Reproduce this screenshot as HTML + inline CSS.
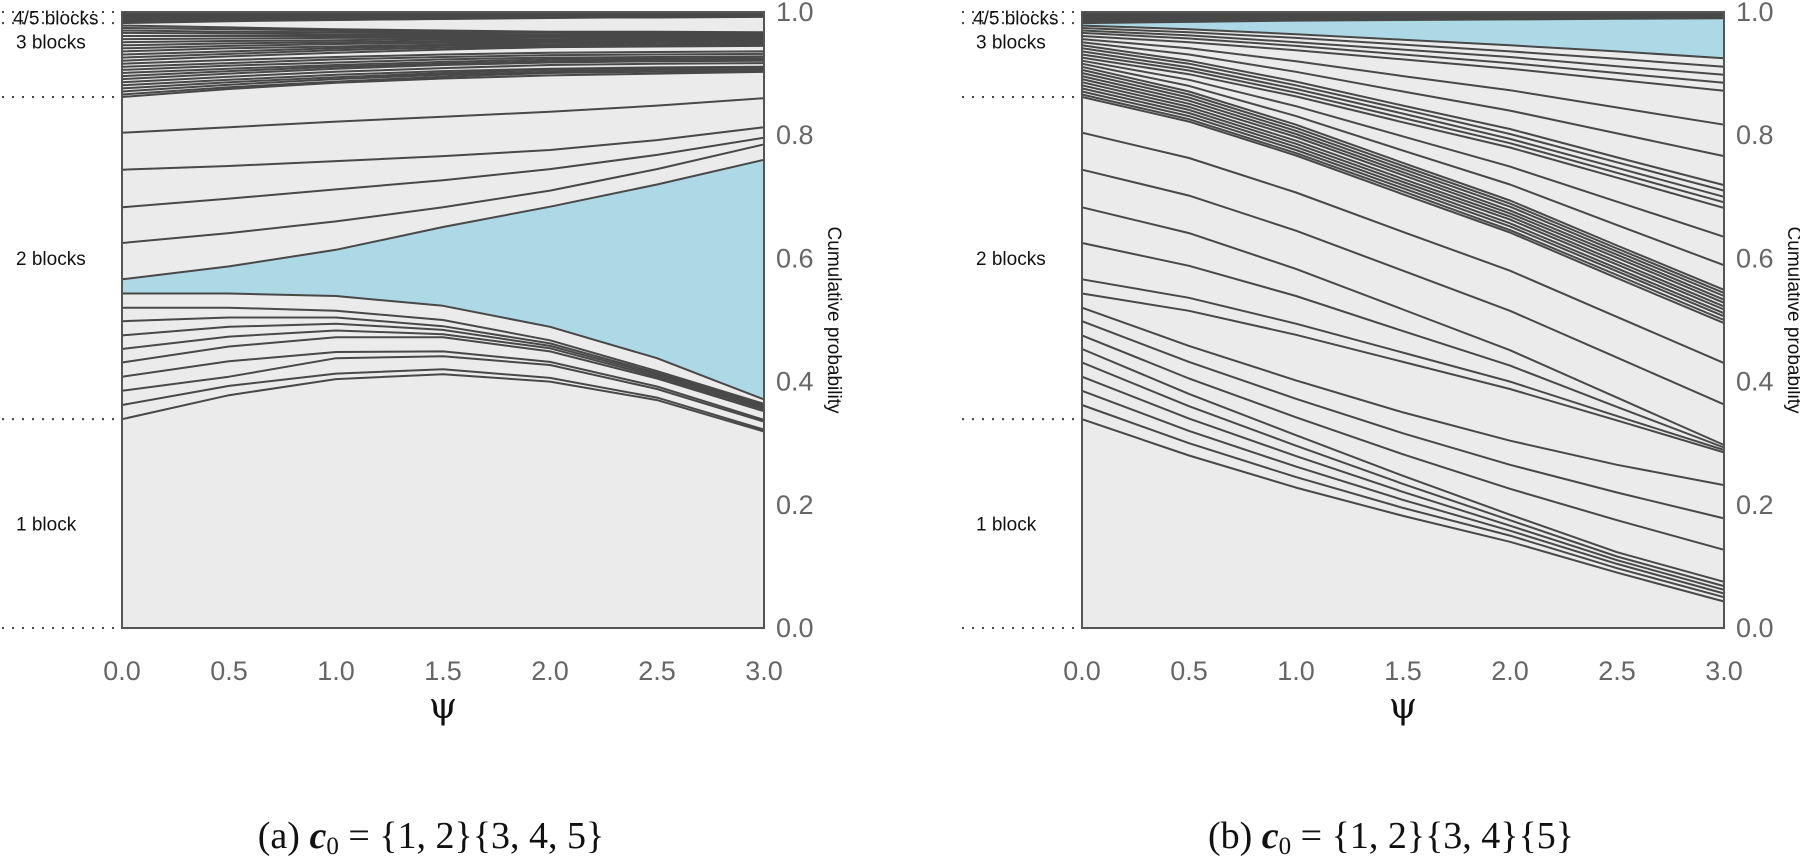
<!DOCTYPE html>
<html><head><meta charset="utf-8">
<style>
html,body{margin:0;padding:0;background:#fff;}
svg{display:block;}
</style></head>
<body>
<svg id="chart" width="1800" height="859" viewBox="0 0 1800 859" xmlns="http://www.w3.org/2000/svg"></svg>
<script>
// ---------- data ----------
const psiTicks = [0, 0.5, 1, 1.5, 2, 2.5, 3];
const psiEnds = [0, 3];
const probTicks = [0, 0.2, 0.4, 0.6, 0.8, 1.0];
const psiTickLabels = ["0.0","0.5","1.0","1.5","2.0","2.5","3.0"];
const probTickLabels = ["0.0","0.2","0.4","0.6","0.8","1.0"];
const groupLabels = ["1 block","2 blocks","3 blocks","4/5 blocks"];
const captions = ["(a)","(b)"];
const captionSets = ["{1, 2}{3, 4, 5}", "{1, 2}{3, 4}{5}"];

// Panel (a): cumulative boundaries at psi = 0..3 (step 0.5)
const aTwoBlockLines = [
 [0.339,0.378,0.404,0.412,0.400,0.370,0.319],
 [0.362,0.393,0.413,0.420,0.406,0.374,0.322],
 [0.385,0.408,0.438,0.441,0.427,0.388,0.335],
 [0.408,0.433,0.448,0.449,0.432,0.392,0.338],
 [0.431,0.457,0.472,0.472,0.449,0.405,0.352],
 [0.453,0.473,0.483,0.477,0.454,0.408,0.355],
 [0.475,0.489,0.494,0.484,0.458,0.411,0.358],
 [0.498,0.504,0.504,0.490,0.462,0.414,0.361],
 [0.520,0.520,0.515,0.500,0.467,0.417,0.364],
 [0.543,0.543,0.539,0.523,0.489,0.438,0.371],
 [0.566,0.587,0.614,0.651,0.684,0.720,0.760],
 [0.625,0.641,0.660,0.683,0.710,0.745,0.785],
 [0.683,0.697,0.712,0.727,0.745,0.768,0.796],
 [0.744,0.750,0.758,0.766,0.776,0.792,0.813],
 [0.804,0.813,0.822,0.830,0.838,0.848,0.860],
 [0.862,0.875,0.885,0.892,0.897,0.900,0.903]
];
const aThreeBlockLines = [
 [0.866,0.878,0.887,0.895,0.901,0.903,0.905],
 [0.871,0.882,0.891,0.898,0.903,0.906,0.907],
 [0.876,0.886,0.894,0.901,0.906,0.908,0.909],
 [0.881,0.890,0.898,0.904,0.908,0.910,0.911],
 [0.886,0.895,0.903,0.909,0.914,0.916,0.917],
 [0.891,0.900,0.908,0.914,0.918,0.920,0.921],
 [0.896,0.904,0.911,0.916,0.920,0.922,0.923],
 [0.901,0.908,0.914,0.919,0.923,0.924,0.925],
 [0.906,0.913,0.918,0.923,0.926,0.927,0.928],
 [0.911,0.917,0.923,0.927,0.930,0.931,0.932],
 [0.916,0.922,0.927,0.931,0.934,0.935,0.936],
 [0.921,0.928,0.934,0.939,0.943,0.944,0.945],
 [0.926,0.932,0.938,0.942,0.945,0.946,0.947],
 [0.931,0.936,0.941,0.945,0.947,0.948,0.949],
 [0.936,0.941,0.944,0.947,0.950,0.950,0.951],
 [0.941,0.945,0.948,0.950,0.952,0.953,0.953],
 [0.946,0.949,0.951,0.953,0.954,0.955,0.955],
 [0.951,0.953,0.954,0.956,0.956,0.957,0.957],
 [0.956,0.957,0.958,0.958,0.959,0.959,0.959],
 [0.961,0.961,0.961,0.961,0.961,0.961,0.961],
 [0.966,0.965,0.964,0.964,0.963,0.963,0.963],
 [0.970,0.968,0.967,0.966,0.966,0.965,0.965],
 [0.974,0.972,0.970,0.968,0.967,0.966,0.966],
 [0.978,0.975,0.972,0.970,0.968,0.968,0.967],
 [0.982,0.985,0.987,0.989,0.991,0.991,0.992]
];
const aFourFiveStart = [0.984,0.985,0.987,0.989,0.990,0.992,0.994,0.995,0.997,0.998];
const aFourFiveEnd   = [0.993,0.994,0.995,0.995,0.996,0.997,0.997,0.998,0.999,0.999];
const aBlueBetween = [9, 10];

// Panel (b)
const bTwoBlockLines = [
 [0.339,0.280,0.228,0.182,0.140,0.090,0.043],
 [0.362,0.300,0.245,0.195,0.150,0.097,0.050],
 [0.385,0.320,0.262,0.208,0.158,0.104,0.056],
 [0.408,0.340,0.279,0.221,0.166,0.110,0.062],
 [0.431,0.360,0.296,0.234,0.175,0.116,0.068],
 [0.453,0.380,0.313,0.247,0.184,0.123,0.075],
 [0.475,0.405,0.342,0.282,0.226,0.175,0.127],
 [0.498,0.432,0.372,0.316,0.265,0.220,0.178],
 [0.520,0.458,0.402,0.350,0.304,0.265,0.232],
 [0.543,0.515,0.476,0.432,0.388,0.337,0.285],
 [0.566,0.536,0.494,0.447,0.400,0.344,0.289],
 [0.625,0.588,0.539,0.482,0.426,0.359,0.293],
 [0.683,0.641,0.583,0.517,0.451,0.374,0.297],
 [0.744,0.702,0.645,0.580,0.515,0.439,0.363],
 [0.804,0.763,0.707,0.643,0.580,0.505,0.430],
 [0.862,0.822,0.767,0.704,0.642,0.568,0.495]
];
const bThreeBlockLines = [
 [0.866,0.826,0.771,0.709,0.646,0.573,0.500],
 [0.871,0.831,0.776,0.714,0.652,0.579,0.506],
 [0.876,0.836,0.781,0.719,0.657,0.584,0.511],
 [0.881,0.841,0.786,0.724,0.663,0.590,0.517],
 [0.886,0.846,0.791,0.729,0.668,0.595,0.522],
 [0.891,0.851,0.797,0.735,0.673,0.601,0.528],
 [0.896,0.856,0.802,0.740,0.678,0.606,0.533],
 [0.901,0.861,0.807,0.745,0.684,0.611,0.539],
 [0.906,0.866,0.812,0.750,0.689,0.616,0.544],
 [0.911,0.871,0.817,0.755,0.694,0.621,0.549],
 [0.916,0.880,0.831,0.775,0.720,0.654,0.589],
 [0.921,0.890,0.847,0.798,0.749,0.692,0.635],
 [0.926,0.899,0.863,0.821,0.780,0.731,0.682],
 [0.931,0.905,0.869,0.828,0.787,0.739,0.691],
 [0.936,0.910,0.875,0.835,0.794,0.747,0.700],
 [0.941,0.916,0.881,0.842,0.802,0.756,0.710],
 [0.946,0.921,0.887,0.848,0.810,0.764,0.719],
 [0.951,0.931,0.903,0.871,0.840,0.803,0.766],
 [0.956,0.941,0.920,0.896,0.873,0.845,0.817],
 [0.961,0.951,0.938,0.923,0.908,0.890,0.872],
 [0.966,0.957,0.945,0.931,0.917,0.901,0.885],
 [0.970,0.962,0.951,0.939,0.927,0.912,0.898],
 [0.974,0.967,0.958,0.947,0.936,0.924,0.911],
 [0.978,0.972,0.964,0.955,0.946,0.936,0.925],
 [0.982,0.984,0.986,0.987,0.988,0.989,0.990]
];
const bFourFiveStart = [0.984,0.985,0.987,0.989,0.990,0.992,0.994,0.995,0.997,0.998];
const bFourFiveEnd   = [0.991,0.992,0.993,0.994,0.995,0.996,0.997,0.998,0.998,0.999];
const bBlueBetween = [23, 24];

// ---------- drawing ----------
const NS = "http://www.w3.org/2000/svg";
const svg = document.getElementById("chart");
const PX0 = [122, 1082], PW = 642, YT = 12, YB = 628;
const LINE = "#484848", BG = "#ebebeb", BLUE = "#add8e6";
function sx(panel, psi){ return PX0[panel] + psi / 3 * PW; }
function sy(p){ return YB - (YB - YT) * p; }
function mk(tag, attrs, parent){
  const e = document.createElementNS(NS, tag);
  for (const k in attrs) e.setAttribute(k, attrs[k]);
  (parent || svg).appendChild(e);
  return e;
}
function pts(panel, xs, ys){ return xs.map((x,i)=> sx(panel,x).toFixed(1)+","+sy(ys[i]).toFixed(1)).join(" "); }

const panels = [
  {two:aTwoBlockLines, three:aThreeBlockLines, fs:aFourFiveStart, fe:aFourFiveEnd, blue:[aTwoBlockLines[aBlueBetween[0]], aTwoBlockLines[aBlueBetween[1]]]},
  {two:bTwoBlockLines, three:bThreeBlockLines, fs:bFourFiveStart, fe:bFourFiveEnd, blue:[bThreeBlockLines[bBlueBetween[0]], bThreeBlockLines[bBlueBetween[1]]]}
];

panels.forEach((P, pi) => {
  const g = mk("g", {});
  
  

  const bg = mk("rect", {x:PX0[pi], y:YT, width:PW, height:YB-YT, fill:BG}, g);
  
  

  const top3 = P.three[P.three.length-1];
  const band = mk("polygon", {points: pts(pi, psiTicks, top3) + " " + sx(pi,3)+","+sy(1)+" "+sx(pi,0)+","+sy(1), fill:"#888"}, g);
  
  

  const lo = P.blue[0], hi = P.blue[1];
  const bluePts = pts(pi, psiTicks, lo) + " " + pts(pi, psiTicks.slice().reverse(), hi.slice().reverse());
  const blue = mk("polygon", {points: bluePts, fill: BLUE}, g);
  
  

  const lines = P.two.concat(P.three);
  lines.forEach((ys, li) => {
    const pl = mk("polyline", {points: pts(pi, psiTicks, ys), fill:"none", stroke:LINE, "stroke-width":2, "stroke-linejoin":"round"}, g);
    
    
  });
  P.fs.forEach((v, i) => {
    const pl = mk("polyline", {points: pts(pi, psiEnds, [v, P.fe[i]]), fill:"none", stroke:LINE, "stroke-width":1.6}, g);
    
    
  });

  const frame = mk("rect", {x:PX0[pi], y:YT, width:PW, height:YB-YT, fill:"none", stroke:"#555", "stroke-width":2}, g);
  
  

  psiTicks.forEach((t, i) => {
    const tx = mk("text", {x:sx(pi,t), y:680, "text-anchor":"middle", "font-family":"Liberation Sans, sans-serif", "font-size":27, fill:"#666"}, g);
    tx.textContent = psiTickLabels[i];
    
    
  });
  probTicks.forEach((t, i) => {
    const ty = mk("text", {x:PX0[pi]+PW+12, y:sy(t)+9, "font-family":"Liberation Sans, sans-serif", "font-size":27, fill:"#666"}, g);
    ty.textContent = probTickLabels[i];
    
    
  });
  const yt = mk("text", {x:0, y:0, transform:"translate("+(PX0[pi]+PW+64)+",320) rotate(90)", "text-anchor":"middle", "font-family":"Liberation Sans, sans-serif", "font-size":19, fill:"#111"}, g);
  yt.textContent = "Cumulative probability";
  
  
  const xt = mk("text", {x:PX0[pi]+PW/2, y:718, "text-anchor":"middle", "font-family":"DejaVu Serif, Liberation Serif, serif", "font-size":36, fill:"#111"}, g);
  xt.textContent = "ψ";
  
  

  const guides = [0, P.two[0][0], P.two[P.two.length-1][0], top3[0], 1.0];
  guides.forEach((gv, gi) => {
    const dl = mk("line", {x1:PX0[pi]-120, x2:PX0[pi]-4, y1:sy(gv), y2:sy(gv), stroke:"#444", "stroke-width":2, "stroke-dasharray":"2 8"}, g);
    
    
  });
  const labelY = [(guides[0]+guides[1])/2, (guides[1]+guides[2])/2, (guides[2]+guides[3])/2 + 0.03, (guides[3]+guides[4])/2];
  groupLabels.forEach((lb, i) => {
    const t = mk("text", {x:PX0[pi]-(i===3?109:106), y:sy(labelY[i])+7, "font-family":"Liberation Sans, sans-serif", "font-size":19, fill:"#111"}, g);
    t.textContent = lb;
    
    
  });

  const cap = mk("text", {x:PX0[pi]+PW/2-12, y:848, "text-anchor":"middle", "font-family":"Liberation Serif, DejaVu Serif, serif", "font-size":38, fill:"#111"}, g);
  
  
  const s1 = mk("tspan", {}, cap); s1.textContent = captions[pi] + " ";
  const s2 = mk("tspan", {"font-style":"italic","font-weight":"bold"}, cap); s2.textContent = "c";
  const s3 = mk("tspan", {"font-size":25, dy:6}, cap); s3.textContent = "0";
  const s4 = mk("tspan", {dy:-6}, cap); s4.textContent = " = " + captionSets[pi];
});
</script>
</body></html>
